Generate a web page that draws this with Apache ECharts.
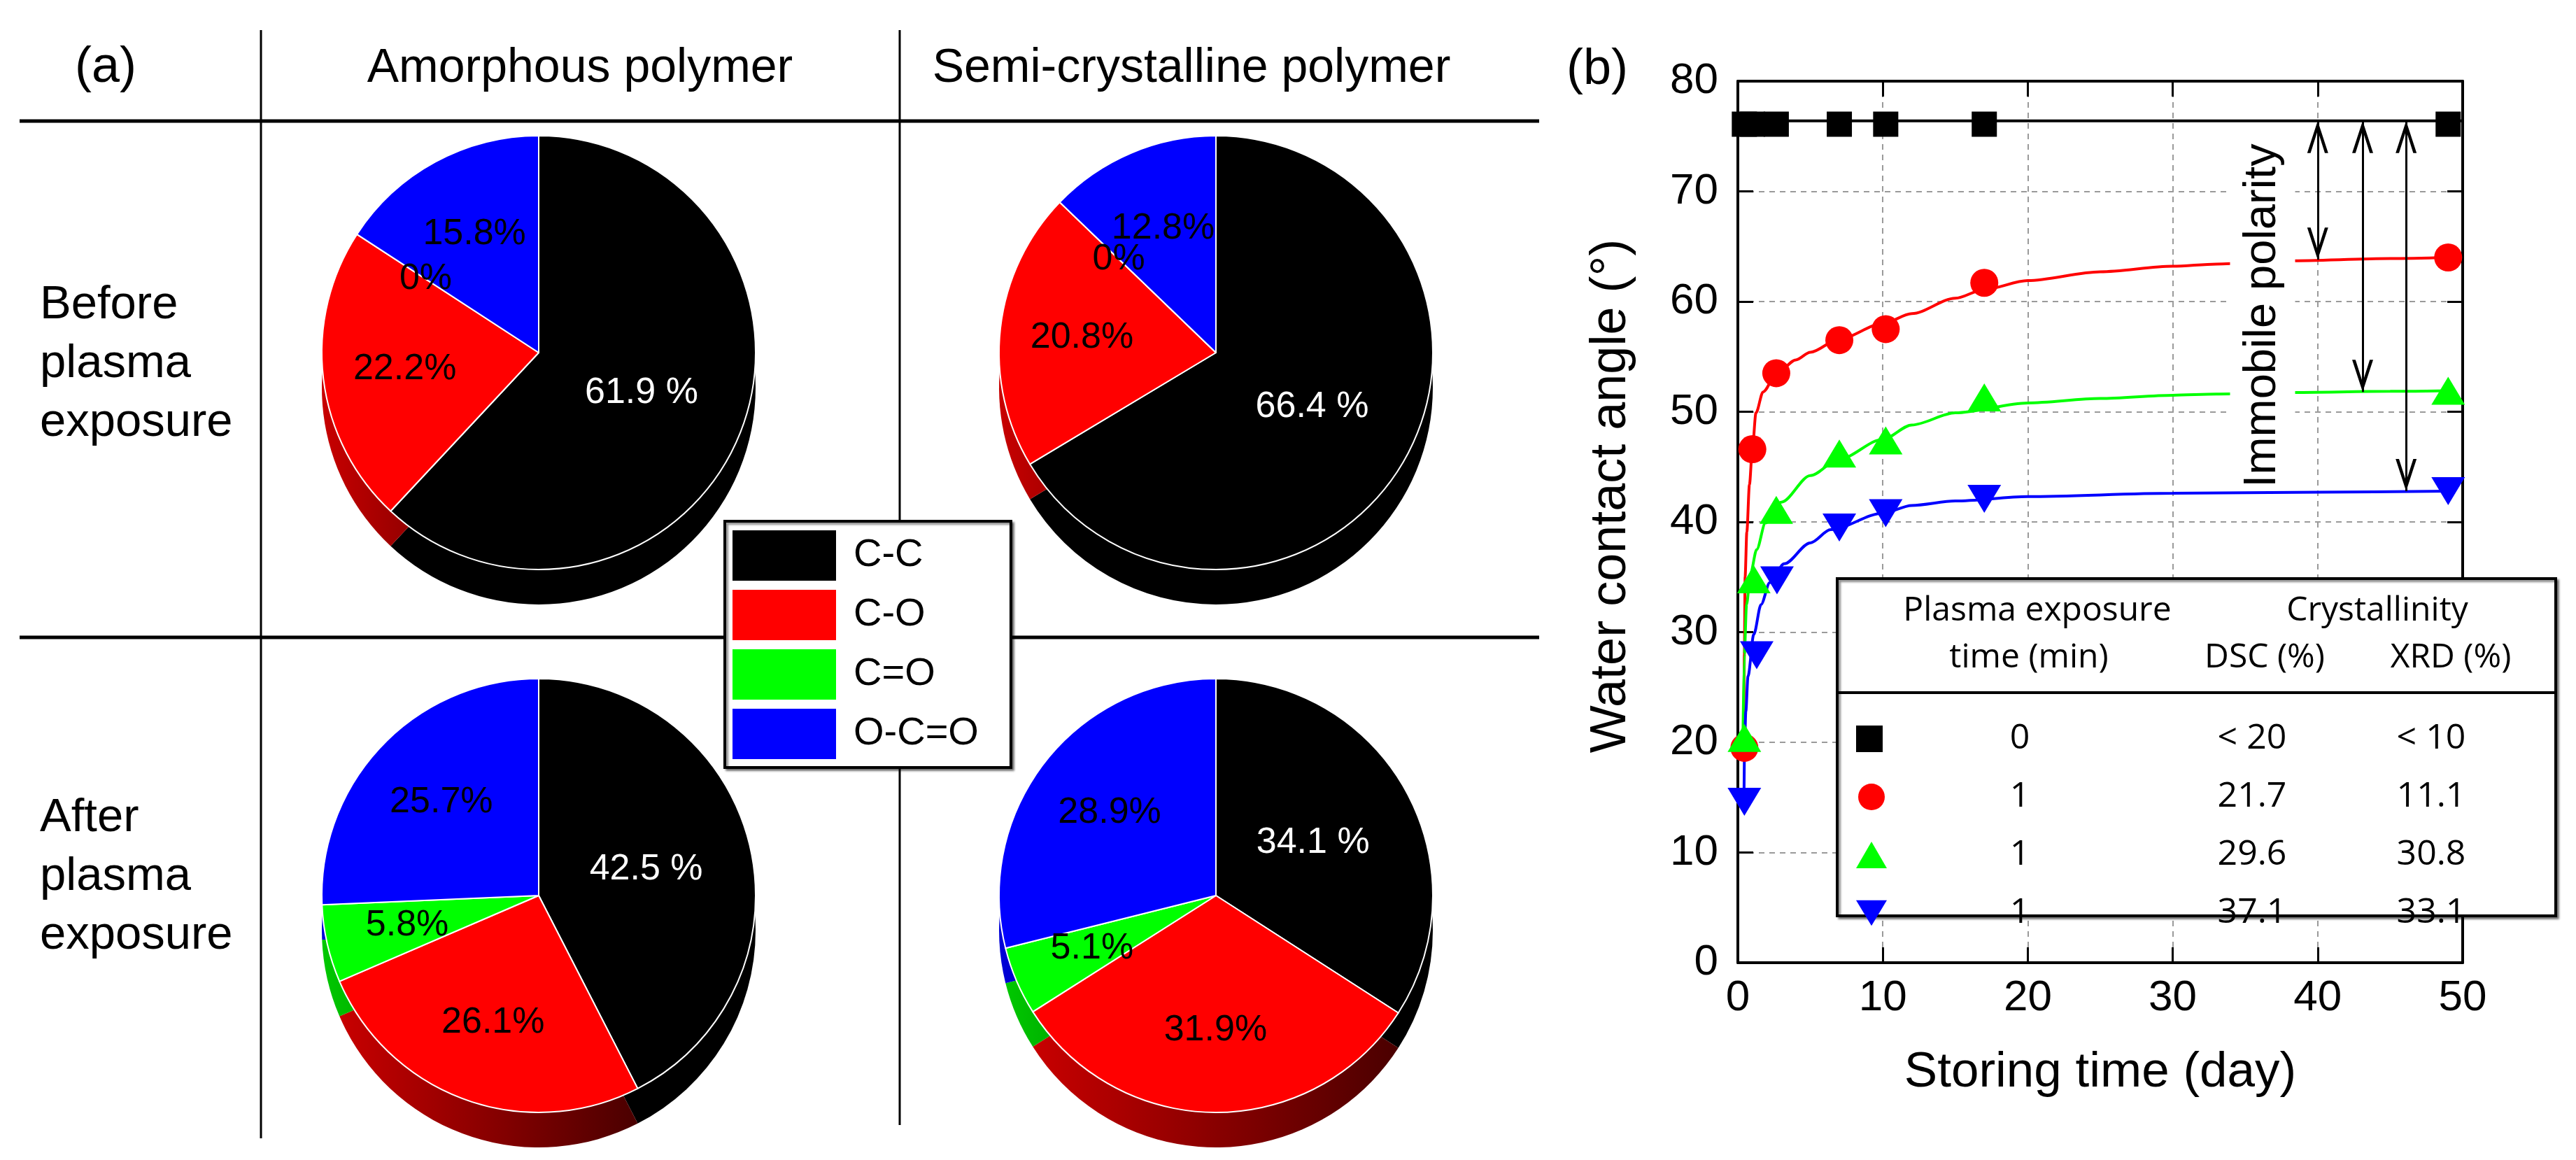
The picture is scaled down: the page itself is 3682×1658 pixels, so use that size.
<!DOCTYPE html>
<html>
<head>
<meta charset="utf-8">
<script src="https://cdn.jsdelivr.net/npm/echarts@6/dist/echarts.min.js"></script>
<style>
  html, body { margin: 0; padding: 0; background: #fff; }
  #chart { width: 3682px; height: 1658px; }
</style>
</head>
<body>
<div id="chart"></div>
<script>
// (a) C1s bond fractions, %
const bondTypes = ['C-C', 'C-O', 'C=O', 'O-C=O']
const amorphousBefore = [61.9, 22.2, 0, 15.8]
const semiBefore = [66.4, 20.8, 0, 12.8]
const amorphousAfter = [42.5, 26.1, 5.8, 25.7]
const semiAfter = [34.1, 31.9, 5.1, 28.9]

// (b) water contact angle vs storing time
const sampleNames = ['0 min', '1 min (21.7)', '1 min (29.6)', '1 min (37.1)']
const exposureTime = ['0', '1', '1', '1']
const dscCryst = ['< 20', '21.7', '29.6', '37.1']
const xrdCryst = ['< 10', '11.1', '30.8', '33.1']

const untreatedPts = [[0.45, 76.1], [1, 76.1], [2.65, 76.1], [7, 76.1], [10.2, 76.1], [17, 76.1], [49, 76.1]]
const redPts = [[0.45, 19.5], [1, 46.6], [2.65, 53.5], [7, 56.5], [10.2, 57.5], [17, 61.7], [49, 64.0]]
const greenPts = [[0.45, 20.4], [1.1, 34.8], [2.65, 41.1], [7, 46.2], [10.2, 47.4], [17, 51.3], [49, 51.9]]
const bluePts = [[0.45, 14.6], [1.3, 27.9], [2.7, 34.7], [7, 39.5], [10.2, 40.8], [17, 42.1], [49, 42.8]]

// fitted curves
const untreatedFit = [[0, 76.4], [50, 76.4]]
const redFit = [[0.4, 19.5], [0.45, 28], [0.5, 35], [0.62, 39.1], [0.8, 43.4], [1, 46.6], [1.25, 49.9], [1.74, 51.8],
  [2.65, 53.4], [4, 54.7], [5, 55.4], [7, 56.6], [10, 58], [12, 58.9], [15, 60.3], [17, 61.1], [20, 61.9],
  [25, 62.7], [30, 63.2], [33, 63.4], [38, 63.7], [45, 63.9], [49, 64.0]]
const greenFit = [[0.35, 20.4], [0.45, 28], [0.6, 32.5], [0.87, 35.3], [1.3, 37.5], [1.9, 39.9], [3, 41.8], [5, 44.2],
  [7, 45.7], [10, 47.5], [12, 48.8], [15, 49.9], [20, 50.8], [25, 51.2], [30, 51.5], [33, 51.6], [38, 51.75],
  [45, 51.85], [49, 51.9]]
const blueFit = [[0.42, 14.6], [0.47, 20.1], [0.55, 22.8], [0.7, 26], [1.1, 29.8], [1.6, 32.5], [2.2, 34.5],
  [3.2, 36.2], [5, 38.1], [6.4, 39.3], [10, 40.8], [12, 41.5], [15, 41.9], [20, 42.3], [30, 42.6], [40, 42.7], [49, 42.8]]

// "immobile polarity" arrows: from the untreated level down to each plateau
const untreatedLevel = 76.4
const plateaus = [63.8, 51.8, 42.8]
const arrowDays = [40, 43.1, 46.1]

const FONT = "'Liberation Sans', Arial, sans-serif"
const NARROW = "'Liberation Sans Narrow', 'Arial Narrow', 'Liberation Sans', sans-serif"
const TABLE = "'Open Sans', sans-serif"

const pieColors = ['#000000', '#ff0000', '#00ff00', '#0000ff']
const sideColors = [['#000000', '#000000'], ['#c80000', '#4a0000'], ['#00c800', '#006000'], ['#0000d8', '#000060']]
const R = 310
const DEPTH = 50

function faceSeries(values, center) {
  return {
    type: 'pie', z: 3, silent: true, center, radius: R, startAngle: 90, clockwise: true,
    itemStyle: { borderColor: '#ffffff', borderWidth: 2 },
    label: {
      show: true, position: 'inside', fontFamily: FONT, fontSize: 52,
      formatter: (p) => p.dataIndex === 0 ? p.value + ' %' : p.value + '%',
    },
    labelLine: { show: false },
    labelLayout: (p) => {
      if (p.dataIndex === 0) return {}
      const r = p.labelRect
      const cx = r.x + r.width / 2
      const cy = r.y + r.height / 2
      return { dx: (cx - center[0]) * 0.22, dy: (cy - center[1]) * 0.22 }
    },
    data: values.map((v, i) => ({
      name: bondTypes[i], value: v,
      itemStyle: { color: pieColors[i] },
      label: { color: i === 0 ? '#ffffff' : '#000000' },
    })),
  }
}

function sideSeries(values, center) {
  return {
    type: 'pie', z: 2, silent: true, center: [center[0], center[1] + DEPTH], radius: R,
    startAngle: 90, clockwise: true,
    label: { show: false }, labelLine: { show: false },
    data: values.map((v, i) => ({
      name: bondTypes[i], value: v,
      itemStyle: {
        color: new echarts.graphic.LinearGradient(0, 0, 1, 0, [
          { offset: 0, color: sideColors[i][0] },
          { offset: 1, color: sideColors[i][1] },
        ]),
      },
    })),
  }
}

const pies = [
  [amorphousBefore, [770, 504]],
  [semiBefore, [1738, 504]],
  [amorphousAfter, [770, 1280]],
  [semiAfter, [1738, 1280]],
]

const HEAD_UP = 'path://M50,0 L100,100 L84,100 L50,30 L16,100 L0,100 Z'
const HEAD_DOWN = 'path://M0,0 L16,0 L50,70 L84,0 L100,0 L50,100 Z'
const DOWN_TRI = 'path://M0,0 L120,0 L60,100 Z'

const axisLine = { show: true, onZero: false, lineStyle: { color: '#000', width: 4 } }
const axisTick = { show: true, inside: true, length: 22, lineStyle: { color: '#000', width: 3 } }
const gridDash = { show: true, lineStyle: { color: '#9a9a9a', width: 2, type: [8, 7] } }

function fitLine(name, data, color, extra) {
  return Object.assign({
    type: 'line', name, data, z: 2, silent: true, symbol: 'none',
    smooth: 0.3, smoothMonotone: 'x',
    lineStyle: { color, width: 4 },
  }, extra || {})
}

function markers(name, data, symbol, size, color, extra) {
  return Object.assign({
    type: 'scatter', name, data, z: 4, silent: true, symbol, symbolSize: size,
    itemStyle: { color, opacity: 1 },
  }, extra || {})
}

function txt(text, x, y, size, opts) {
  opts = opts || {}
  return {
    type: 'text', x, y, z: opts.z || 20, rotation: opts.rotation || 0, silent: true,
    style: Object.assign({
      text, fontFamily: FONT, fontSize: size, fill: '#000', align: 'center', verticalAlign: 'middle',
    }, opts.style || {}),
  }
}

function hline(x1, x2, y, w, z) {
  return { type: 'line', z: z || 1, silent: true, shape: { x1, y1: y, x2, y2: y }, style: { stroke: '#000', lineWidth: w } }
}
function vline(x, y1, y2, w, z) {
  return { type: 'line', z: z || 1, silent: true, shape: { x1: x, y1, x2: x, y2 }, style: { stroke: '#000', lineWidth: w } }
}

const option = {
  animation: false,
  backgroundColor: '#ffffff',
  grid: { left: 2484, top: 116, width: 1036, height: 1260, containLabel: false },
  xAxis: [
    {
      type: 'value', min: 0, max: 50, interval: 10, position: 'bottom',
      axisLine, axisTick, splitLine: gridDash,
      axisLabel: { fontFamily: NARROW, fontSize: 62, color: '#000', margin: 20 },
      name: 'Storing time (day)', nameLocation: 'middle', nameGap: 122,
      nameTextStyle: { fontFamily: FONT, fontSize: 71, color: '#000' },
    },
    {
      type: 'value', min: 0, max: 50, interval: 10, position: 'top',
      axisLine, axisTick, splitLine: { show: false }, axisLabel: { show: false },
    },
  ],
  yAxis: [
    {
      type: 'value', min: 0, max: 80, interval: 10, position: 'left',
      axisLine, axisTick, splitLine: gridDash,
      axisLabel: { fontFamily: NARROW, fontSize: 62, color: '#000', margin: 28 },
      name: 'Water contact angle (°)', nameLocation: 'middle', nameGap: 145,
      nameTextStyle: { fontFamily: FONT, fontSize: 72, color: '#000', padding: [0, 0, 0, 74] },
    },
    {
      type: 'value', min: 0, max: 80, interval: 10, position: 'right',
      axisLine, axisTick, splitLine: { show: false }, axisLabel: { show: false },
    },
  ],
  legend: [
    {
      id: 'bonds', orient: 'vertical', left: 1036, top: 745, z: 6,
      padding: [13, 46, 12, 11], itemWidth: 148, itemHeight: 72, itemGap: 13,
      backgroundColor: '#ffffff', borderColor: '#000', borderWidth: 4,
      shadowColor: 'rgba(0,0,0,0.45)', shadowBlur: 3, shadowOffsetX: 3, shadowOffsetY: 3,
      selectedMode: false,
      textStyle: { fontFamily: FONT, fontSize: 56, color: '#000', lineHeight: 72, padding: [0, 0, 0, 20] },
      data: bondTypes.map((n, i) => ({ name: n, icon: 'rect', itemStyle: { color: pieColors[i], borderWidth: 0 } })),
    },
    {
      id: 'samples', orient: 'vertical', left: 2653, top: 1031, z: 12,
      padding: 0, itemWidth: 44, itemHeight: 38, itemGap: 33,
      selectedMode: false,
      data: sampleNames,
      formatter: (name) => {
        const i = sampleNames.indexOf(name)
        return '{t|' + exposureTime[i] + '}{d|' + dscCryst[i] + '}{x|' + xrdCryst[i] + '}'
      },
      textStyle: {
        fontFamily: TABLE, fontSize: 50, color: '#000', lineHeight: 38,
        rich: {
          t: { width: 370, align: 'center', fontFamily: TABLE, fontSize: 50, lineHeight: 38 },
          d: { width: 294, align: 'center', fontFamily: TABLE, fontSize: 50, lineHeight: 38 },
          x: { width: 218, align: 'center', fontFamily: TABLE, fontSize: 50, lineHeight: 38 },
        },
      },
    },
  ],
  graphic: [
    // panel (a) table lines
    vline(373, 43, 1627, 3),
    vline(1286, 43, 1608, 3),
    hline(28, 2200, 173, 5),
    hline(28, 2200, 911, 5),
    txt('(a)', 151, 97, 72),
    txt('(b)', 2283, 100, 72),
    txt('Amorphous polymer', 829, 98, 68),
    txt('Semi-crystalline polymer', 1703, 98, 68),
    txt('Before\nplasma\nexposure', 57, 521, 67, { style: { align: 'left', lineHeight: 84 } }),
    txt('After\nplasma\nexposure', 57, 1254, 67, { style: { align: 'left', lineHeight: 84 } }),
    // panel (b) annotation
    txt('Immobile polarity', 3234, 451, 65, {
      rotation: Math.PI / 2, z: 5,
      style: { backgroundColor: '#ffffff', lineHeight: 93, padding: [0, 4] },
    }),
    // panel (b) inset table
    {
      type: 'rect', z: 8, silent: true, shape: { x: 2626, y: 827, width: 1027, height: 482 },
      style: { fill: '#ffffff', stroke: '#000', lineWidth: 4, shadowColor: 'rgba(0,0,0,0.45)', shadowBlur: 3, shadowOffsetX: 3, shadowOffsetY: 3 },
    },
    hline(2626, 3653, 990, 4, 9),
    txt('Plasma exposure', 2912, 873, 48, { style: { fontFamily: TABLE } }),
    txt('time (min)', 2900, 940, 48, { style: { fontFamily: TABLE } }),
    txt('Crystallinity', 3398, 873, 48, { style: { fontFamily: TABLE } }),
    txt('DSC (%)', 3237, 940, 48, { style: { fontFamily: TABLE } }),
    txt('XRD (%)', 3503, 940, 48, { style: { fontFamily: TABLE } }),
  ],
  series: [
    ...pies.map(([v, c]) => sideSeries(v, c)),
    ...pies.map(([v, c]) => faceSeries(v, c)),
    fitLine('fit 0 min', untreatedFit, '#000000', {
      smooth: false,
      markLine: {
        silent: true,
        symbol: ['none', 'none'],
        lineStyle: { color: '#000', width: 3, type: 'solid' },
        label: { show: false },
        data: arrowDays.map((d, i) => [{ coord: [d, untreatedLevel] }, { coord: [d, plateaus[i]] }]),
      },
    }),
    fitLine('fit red', redFit, '#ff0000'),
    fitLine('fit green', greenFit, '#00ff00'),
    fitLine('fit blue', blueFit, '#0000ff'),
    // arrow heads, tips placed on the levels
    markers('arrow top', arrowDays.map((d) => [d, untreatedLevel]), HEAD_UP, [30, 46], '#000000',
      { z: 5, symbolOffset: [0, 23] }),
    markers('arrow bottom', arrowDays.map((d, i) => [d, plateaus[i]]), HEAD_DOWN, [30, 46], '#000000',
      { z: 5, symbolOffset: [0, -23] }),
    markers(sampleNames[0], untreatedPts, 'square', 36, '#000000'),
    markers(sampleNames[1], redPts, 'circle', 40, '#ff0000'),
    markers(sampleNames[2], greenPts, 'triangle', [48, 40], '#00ff00'),
    markers(sampleNames[3], bluePts, DOWN_TRI, [48, 40], '#0000ff'),
  ],
}

const chart = echarts.init(document.getElementById('chart'))
chart.setOption(option)
</script>
</body>
</html>
